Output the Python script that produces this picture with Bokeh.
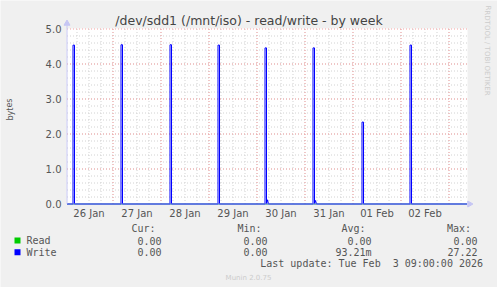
import pandas as pd
from bokeh.plotting import figure
from bokeh.models import Range1d, Label, BoxAnnotation
from bokeh.embed import file_html
from bokeh.resources import INLINE
from bokeh.core.properties import value

# ---------------- data ----------------
start_time = "2026-01-26 01:00"
end_time = "2026-02-03 09:00"
spike_times = ["2026-01-26 04:00", "2026-01-27 04:00", "2026-01-28 04:30", "2026-01-29 04:30",
               "2026-01-30 04:00", "2026-01-31 04:00", "2026-02-01 04:30", "2026-02-02 04:30"]
spike_values = [4.54, 4.55, 4.55, 4.54, 4.46, 4.46, 2.34, 4.54]
tail_values = [0.0, 0.0, 0.0, 0.0, 0.12, 0.10, 0.0, 0.0]
read_value = 0.0
day_label_times = ["2026-01-26 12:00", "2026-01-27 12:00", "2026-01-28 12:00", "2026-01-29 12:00",
                   "2026-01-30 12:00", "2026-01-31 12:00", "2026-02-01 12:00", "2026-02-02 12:00"]
day_labels = ["26 Jan", "27 Jan", "28 Jan", "29 Jan", "30 Jan", "31 Jan", "01 Feb", "02 Feb"]
y_ticks = [0, 1, 2, 3, 4, 5]
y_tick_labels = ["0.0", "1.0", "2.0", "3.0", "4.0", "5.0"]
y_max = 5.0
legend_names = ["Read", "Write"]
legend_colors = ["#00cc00", "#0000ff"]
col_heads = ["Cur:", "Min:", "Avg:", "Max:"]
read_stats = ["0.00", "0.00", "0.00", "0.00"]
write_stats = ["0.00", "0.00", "93.21m", "27.22"]
title = "/dev/sdd1 (/mnt/iso) - read/write - by week"
last_update = "Last update: Tue Feb \u00a03 09:00:00 2026"
y_label = "bytes"


def ms(s):
    return pd.Timestamp(s).value / 1e6


H = 3600 * 1000.0
t0, t1 = ms(start_time), ms(end_time)

# build series from the sample values
wx, wy = [t0], [0.0]
for t, v, tl in zip(spike_times, spike_values, tail_values):
    tm = ms(t)
    wx += [tm, tm, tm + 0.75 * H, tm + 0.75 * H]
    wy += [0.0, v, v, 0.0]
    if tl > 0:
        wx += [tm + 1.25 * H, tm + 1.75 * H]
        wy += [tl, 0.0]
wx.append(t1)
wy.append(0.0)
rx, ry = [t0, t1], [read_value, read_value]

# ---------------- geometry (pixels) ----------------
W, Ht = 497, 287
PL, PR, PT, PB = 66.5, 466.5, 28.5, 203.5  # plot area pixel centres
xpx = (t1 - t0) / (PR - PL)
ypx = y_max / (PB - PT)


def X(px):
    return t0 + (px - PL) * xpx


def Y(py):
    return (PB - py) * ypx


p = figure(width=W, height=Ht, output_backend="svg", toolbar_location=None,
           x_range=Range1d(X(0), X(W)), y_range=Range1d(Y(Ht), Y(0)),
           x_axis_location=None, y_axis_location=None, min_border=0)
p.border_fill_color = "#f0f0f0"
p.background_fill_color = "#f0f0f0"
p.outline_line_color = None
p.grid.visible = False

# white plot area
p.add_layout(BoxAnnotation(left=X(66), right=X(467), bottom=Y(204), top=Y(28),
                           fill_color="#ffffff", fill_alpha=1, line_color=None, level="underlay"))

# grid
minor_x = [ms("2026-01-26 06:00") + i * 6 * H for i in range(33)]
major_x = [ms("2026-01-27 00:00") + i * 24 * H for i in range(8)]
minor_y = [i * 0.2 for i in range(1, 25)]
major_y = [1, 2, 3, 4, 5]
grey, red = "#d2d2d2", "#f5a3a3"
p.segment(x0=minor_x, x1=minor_x, y0=0, y1=y_max, line_color=grey, line_dash="1 2")
p.segment(x0=t0, x1=t1, y0=minor_y, y1=minor_y, line_color=grey, line_dash="1 2")
p.segment(x0=major_x, x1=major_x, y0=0, y1=y_max, line_color=red, line_dash="1 2")
p.segment(x0=t0, x1=t1, y0=major_y, y1=major_y, line_color=red, line_dash="1 2")

# data
p.line(rx, ry, line_color=legend_colors[0], line_width=1)
p.line(wx, wy, line_color=legend_colors[1], line_width=1)

# axes lines + arrows (drawn over the zero line, as in the original)
axis_col = "#c6c6f4"
p.segment(x0=t0, x1=t0, y0=0, y1=Y(24), line_color=axis_col)
p.segment(x0=t0, x1=t1, y0=0, y1=0, line_color="#8484ff")
p.segment(x0=t1, x1=X(468), y0=0, y1=0, line_color=axis_col)
p.scatter(x=[t0], y=[Y(23)], marker="triangle", size=6, fill_color=axis_col, line_color=axis_col)
p.scatter(x=[X(469)], y=[0], marker="triangle", size=6, angle=-1.5708,
          fill_color=axis_col, line_color=axis_col)

# tick labels
text_col = "#555555"
p.text(x=[ms(t) for t in day_label_times], y=Y(213), text=day_labels,
       text_font=value("DejaVu Sans"), text_font_size="10px", text_color=text_col,
       text_align="center", text_baseline="middle")
p.text(x=X(61), y=y_ticks, text=y_tick_labels,
       text_font=value("DejaVu Sans"), text_font_size="10px", text_color=text_col,
       text_align="right", text_baseline="middle")


def lab(x, y, text, size="10px", font="DejaVu Sans", align="left", color=text_col, angle=0.0):
    p.add_layout(Label(x=X(x), y=Y(y), text=text, text_font=font, text_font_size=size,
                       text_align=align, text_baseline="middle", text_color=color, angle=angle))


lab(248.5, 19.5, title, size="12.5px", align="center", color="#444444")
lab(9.5, 109, y_label, size="8px", align="center", angle=1.5708)
lab(487, 5, "RRDTOOL / TOBI OETIKER", size="7px", align="left", color="#cccccc", angle=-1.5708)

mono = "DejaVu Sans Mono"
head_right = [155, 261, 365, 470.5]
val_right = [161, 267, 371, 477]
for h, xr in zip(col_heads, head_right):
    lab(xr, 228, h, font=mono, align="right")
for i, (name, colr, stats) in enumerate(zip(legend_names, legend_colors, [read_stats, write_stats])):
    yy = 240 + i * 11.7
    p.add_layout(BoxAnnotation(left=X(14), right=X(20), top=Y(yy - 3), bottom=Y(yy + 3),
                               fill_color=colr, fill_alpha=1, line_color=None))
    lab(26, yy, name, font=mono)
    for s, xr in zip(stats, val_right):
        lab(xr, yy, s, font=mono, align="right")
lab(482.5, 263, last_update, font=mono, align="right")
lab(248, 277, "Munin 2.0.75", size="7px", align="center", color="#cccccc")

open("out.html", "w").write(file_html(p, INLINE))
